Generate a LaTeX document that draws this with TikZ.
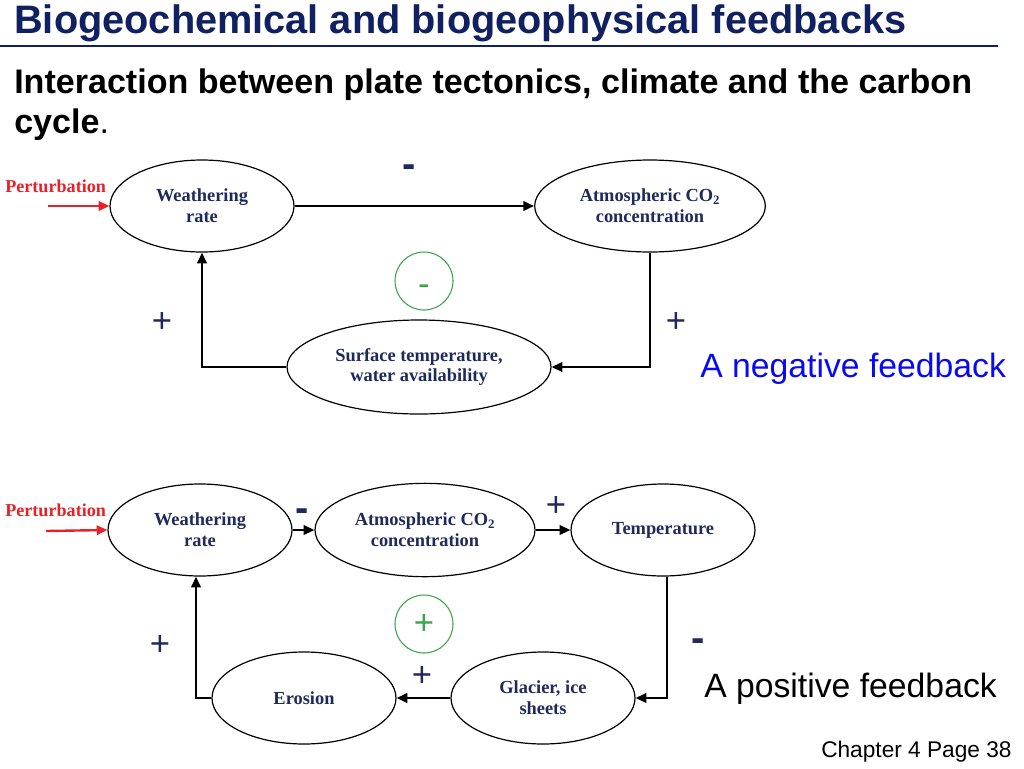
\documentclass[tikz,border=0pt]{standalone}
\usepackage{fontspec}
\setmainfont{Liberation Serif}
\newfontfamily\arial{Liberation Sans}
\usepackage{tikz}
\usetikzlibrary{shapes.geometric}
\usetikzlibrary{arrows.meta}
\usetikzlibrary{positioning}
\definecolor{titlenavy}{RGB}{16,32,96}
\definecolor{textnavy}{RGB}{30,42,92}
\definecolor{pertred}{RGB}{232,32,40}
\definecolor{loopgreen}{RGB}{60,165,75}
\definecolor{notesblue}{RGB}{10,10,240}
\tikzset{
% Define standard arrow tip
>={Triangle[length=8pt,width=7pt]}
}
\tikzset{
  blob/.style={ellipse, draw=black, line width=0.9pt, inner sep=0, align=center,
    text=textnavy, font=\fontsize{13.8}{15.5}\selectfont\bfseries},
  link/.style={->, line width=1.8pt, draw=black},
  plus/.style={text=textnavy, inner sep=0, font=\arial\fontsize{26}{26}\selectfont},
  minus/.style={text=textnavy, inner sep=0, font=\arial\bfseries\fontsize{30}{30}\selectfont},
  loopsign/.style={circle, draw=loopgreen, line width=0.8pt, minimum size=43.5pt,
    inner sep=0, text=loopgreen, font=\arial\fontsize{26}{26}\selectfont},
  pert/.style={anchor=base west, inner sep=0, text=pertred, font=\fontsize{13.6}{15}\selectfont\bfseries},
  note/.style={anchor=base west, inner sep=0, font=\arial\fontsize{25.3}{30}\selectfont}
}

\begin{document}
\begin{tikzpicture}[x=0.75pt, y=-0.75pt]
  \useasboundingbox (0,0) rectangle (1024,768);

  % heading
  \node[anchor=base west, inner sep=0, text=titlenavy,
    font=\arial\bfseries\fontsize{29.8}{30}\selectfont] (title) at (14,33)
    {Biogeochemical and biogeophysical feedbacks};
  \draw[titlenavy, line width=2.2pt] (0,46) -- (998,46);
  \node[note, font=\arial\bfseries\fontsize{25.55}{30}\selectfont] (sub1) at (14,93)
    {Interaction between plate tectonics, climate and the carbon};
  \node[note, font=\arial\bfseries\fontsize{25.55}{30}\selectfont] (sub2) at (14,133)
    {cycle{\mdseries.}};

  % negative loop
  \node[blob, minimum width=138pt, minimum height=69pt] (wr1) at (202,206) {Weathering\\rate};
  \node[blob, minimum width=173pt, minimum height=69pt] (co1) at (650,206) {Atmospheric CO\textsubscript{2}\\concentration};
  \node[blob, minimum width=198pt, minimum height=70.5pt] (st1) at (419,367) {Surface temperature,\\water availability};

  \node[pert] (pt1) at (5,192) {Perturbation};
  \coordinate (pin1) at (48,206);
  \draw[->, pertred, line width=1.8pt] (pin1) -- (wr1.west);

  \draw[link] (wr1.east) -- (co1.west);
  \draw[link] (co1.south) |- (st1.east);
  \draw[link] (st1.west) -| (wr1.south);

  \node[minus] (m1) at (409,171) {-};
  \node[plus] (p1) at (162,322) {+};
  \node[plus] (p2) at (676,322) {+};
  \node[loopsign] (g1) at (424,281) {\raisebox{-11pt}[0pt][0pt]{-}};

  \node[note, text=notesblue] (neg) at (700,377) {A negative feedback};

  % positive loop
  \node[blob, minimum width=138pt, minimum height=69pt] (wr2) at (200,530) {Weathering\\rate};
  \node[blob, minimum width=165pt, minimum height=70pt] (co2) at (425,530) {Atmospheric CO\textsubscript{2}\\concentration};
  \node[blob, minimum width=138pt, minimum height=69pt] (tp2) at (663,530) {Temperature};
  \node[blob, minimum width=138pt, minimum height=69pt] (er2) at (304,698) {Erosion};
  \node[blob, minimum width=138pt, minimum height=69pt] (gl2) at (543,698) {Glacier, ice\\sheets};

  \node[pert] (pt2) at (5,516) {Perturbation};
  \coordinate (pin2) at (46,531);
  \draw[->, pertred, line width=1.8pt] (pin2) -- (wr2.west);

  \draw[link] (wr2.east) -- (co2.west);
  \draw[link] (co2.east) -- (tp2.west);
  \draw[link] ([xshift=3pt]tp2.south) |- (gl2.east);
  \draw[link] (gl2.west) -- (er2.east);
  \draw[link] (er2.west) -| ([xshift=-3pt]wr2.south);

  \node[minus] (m2) at (302,515) {-};
  \node[plus] (p3) at (556,506) {+};
  \node[minus] (m3) at (698,645) {-};
  \node[plus] (p4) at (422,676) {+};
  \node[plus] (p5) at (160,645) {+};
  \node[loopsign] (g2) at (424,624) {+};

  \node[note] (pos) at (704,697) {A positive feedback};
  \node[anchor=base west, inner sep=0, font=\arial\fontsize{17}{20}\selectfont] (page) at (821,757) {Chapter 4 Page 38};
\end{tikzpicture}
\end{document}
